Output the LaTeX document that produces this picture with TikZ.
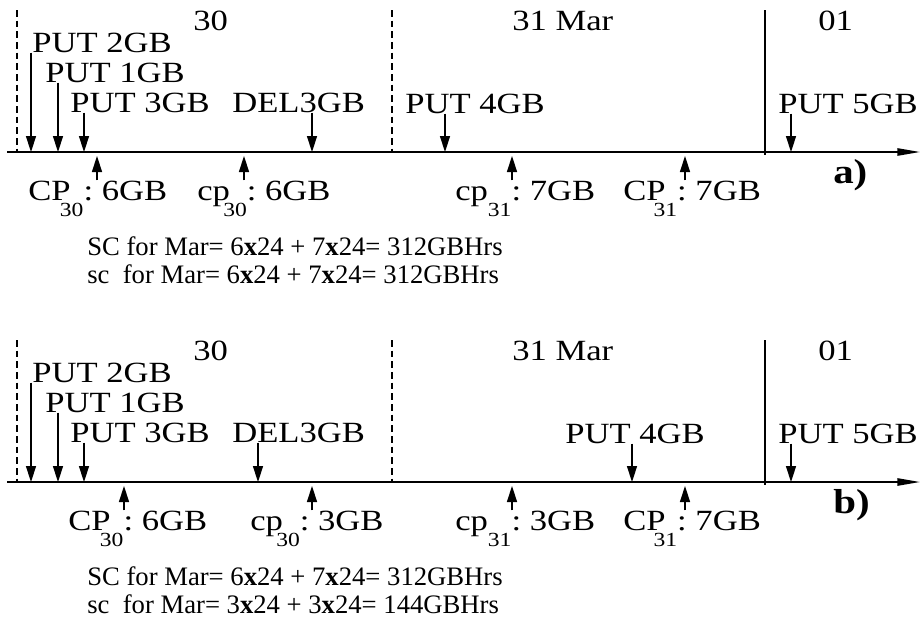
\documentclass[tikz,border=0pt]{standalone}
\usepackage{fontspec}
\setmainfont{Liberation Serif}
\newfontfamily\widefont[FakeStretch=1.18]{Liberation Serif}
\usetikzlibrary{arrows.meta}

\newcommand\lblfont{\widefont\fontsize{22}{24}\selectfont}
\newcommand\subfont{\widefont\fontsize{15}{17}\selectfont}
% checkpoint label: [kern]{name}{day}{size}
\newcommand\cplbl[4][0pt]{#2\kern#1\raisebox{-12.5pt}{\subfont #3}:\ #4}

\begin{document}
\begin{tikzpicture}[x=0.75pt,y=-0.75pt,
    lbl/.style={font=\lblfont,inner sep=0pt,anchor=base west},
    sumtxt/.style={font=\fontsize{20}{22}\selectfont,inner sep=0pt,anchor=base west},
    tagtxt/.style={font=\widefont\bfseries\fontsize{26}{28}\selectfont,inner sep=0pt,anchor=base west},
    evarr/.style={line width=1.1pt,-{Triangle[length=12pt,width=7.5pt]}},
    timeaxis/.style={line width=1.2pt,-{Triangle[length=17pt,width=5.5pt]}},
    daysep/.style={line width=0.9pt,dash pattern=on 5pt off 3pt},
    monthsep/.style={line width=1pt}]
  \useasboundingbox (0,0) rectangle (921,618);

  % what both time lines share
  \foreach \p/\dy in {a/0,b/330}{
    \begin{scope}[shift={(0,\dy)}]
      \coordinate (start\p) at (7,152);
      \coordinate (end\p) at (920,152);
      \draw[timeaxis] (start\p) -- (end\p);
      \draw[daysep] (17,10) -- (17,152);
      \draw[daysep] (392,10) -- (392,152);
      \draw[monthsep] (765,10) -- (765,155);
      \node[lbl] (d30\p) at (193,30) {30};
      \node[lbl] (d31\p) at (512,30) {31 Mar};
      \node[lbl] (d01\p) at (818,30) {01};
      \node[lbl] (put2\p) at (32,52) {PUT 2GB};
      \node[lbl] (put1\p) at (45,82) {PUT 1GB};
      \node[lbl] (put3\p) at (70,112) {PUT 3GB};
      \node[lbl] (del3\p) at (232,112) {DEL3GB};
      \node[lbl] (put5\p) at (778,113) {PUT 5GB};
      \coordinate (t2\p) at (31,152);
      \coordinate (t1\p) at (58,152);
      \coordinate (t3\p) at (84,152);
      \coordinate (t5\p) at (791,152);
      \draw[evarr] (t2\p |- put2\p.south) -- (t2\p);
      \draw[evarr] (t1\p |- put1\p.south) -- (t1\p);
      \draw[evarr] (t3\p |- put3\p.south) -- (t3\p);
      \draw[evarr] (t5\p |- put5\p.south) -- (t5\p);
      \node[lbl] (cp31\p) at (623,200) {\cplbl[-9pt]{CP}{31}{7GB}};
      \coordinate (u4\p) at (685,156);
      \draw[evarr] (u4\p |- cp31\p.north) -- (u4\p);
      \node[tagtxt] (tag\p) at (833,183) {\p)};
      \node[sumtxt] (sc\p) at (87,255) {SC for Mar= 6\textbf{x}24 + 7\textbf{x}24= 312GBHrs};
    \end{scope}
  }

  % a)
  \coordinate (tdela) at (312,152);
  \draw[evarr] (tdela |- del3a.south) -- (tdela);
  \node[lbl] (put4a) at (405,113) {PUT 4GB};
  \coordinate (t4a) at (445,152);
  \draw[evarr] (t4a |- put4a.south) -- (t4a);
  \node[lbl] (CP30a) at (28,200) {\cplbl[-8pt]{CP}{30}{6GB}};
  \node[lbl] (cp30a) at (197,200) {\cplbl[-5pt]{cp}{30}{6GB}};
  \node[lbl] (cp31a) at (455,200) {\cplbl{cp}{31}{7GB}};
  \coordinate (u1a) at (97,156);
  \coordinate (u2a) at (244,156);
  \coordinate (u3a) at (512,156);
  \draw[evarr] (u1a |- CP30a.north) -- (u1a);
  \draw[evarr] (u2a |- cp30a.north) -- (u2a);
  \draw[evarr] (u3a |- cp31a.north) -- (u3a);
  \node[sumtxt] (sca2) at (87,283) {sc\ \ for Mar= 6\textbf{x}24 + 7\textbf{x}24= 312GBHrs};

  % b)
  \begin{scope}[shift={(0,330)}]
    \coordinate (tdelb) at (258,152);
    \draw[evarr] (tdelb |- del3b.south) -- (tdelb);
    \node[lbl] (put4b) at (565,113) {PUT 4GB};
    \coordinate (t4b) at (632,152);
    \draw[evarr] (t4b |- put4b.south) -- (t4b);
    \node[lbl] (CP30b) at (68,200) {\cplbl[-8pt]{CP}{30}{6GB}};
    \node[lbl] (cp30b) at (250,200) {\cplbl[-5pt]{cp}{30}{3GB}};
    \node[lbl] (cp31b) at (455,200) {\cplbl{cp}{31}{3GB}};
    \coordinate (u1b) at (124,156);
    \coordinate (u2b) at (312,156);
    \coordinate (u3b) at (512,156);
    \draw[evarr] (u1b |- CP30b.north) -- (u1b);
    \draw[evarr] (u2b |- cp30b.north) -- (u2b);
    \draw[evarr] (u3b |- cp31b.north) -- (u3b);
    \node[sumtxt] (scb2) at (87,283) {sc\ \ for Mar= 3\textbf{x}24 + 3\textbf{x}24= 144GBHrs};
  \end{scope}
\end{tikzpicture}
\end{document}
